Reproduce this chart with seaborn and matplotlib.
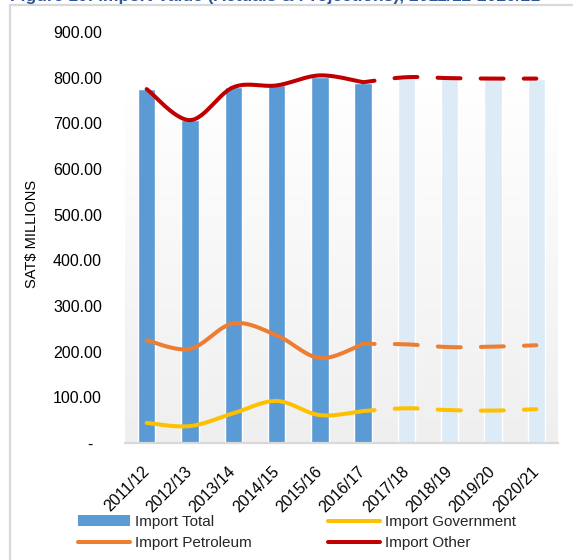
import numpy as np
import pandas as pd
import matplotlib
matplotlib.use("Agg")
import matplotlib.pyplot as plt
from matplotlib.lines import Line2D
from matplotlib.patches import Patch
import seaborn as sns

# ---- data (SAT$ millions) ----
years = ["2011/12", "2012/13", "2013/14", "2014/15", "2015/16",
         "2016/17", "2017/18", "2018/19", "2019/20", "2020/21"]
n_actual = 6  # first six years are actuals, the rest projections
import_total = [775, 707, 779, 783, 801, 788, 799, 799, 797, 797]
import_government = [44, 37, 65, 92, 61, 70, 76, 72, 71, 74]
import_petroleum = [225, 206, 262, 236, 186, 217, 216, 210, 211, 214]
import_other = [775, 707, 779, 783, 805, 790, 801, 799, 798, 798]
y_ticks = [0, 100, 200, 300, 400, 500, 600, 700, 800, 900]
y_tick_labels = ["-  ", "100.00", "200.00", "300.00", "400.00", "500.00",
                 "600.00", "700.00", "800.00", "900.00"]

C_TOTAL = "#5B9BD5"
C_TOTAL_PROJ = "#DDEBF7"
C_GOV = "#FFC000"
C_PET = "#ED7D31"
C_OTHER = "#C00000"

sns.set_theme(style="white")
FONT = ["Liberation Sans", "DejaVu Sans"]
plt.rcParams["font.family"] = FONT

W, H = 581, 560
fig = plt.figure(figsize=(W / 100, H / 100), dpi=100)
ax = fig.add_axes([125 / W, 1 - 443 / H, (558 - 125) / W, (443 - 32) / H])


def smooth(xs, ys, steps=30):
    """Excel-style smoothed line (cubic Bezier, Catmull-Rom tangents)."""
    P = np.column_stack([xs, ys]).astype(float)
    n = len(P)
    out = [P[0]]
    t = np.linspace(0, 1, steps)[1:, None]
    for i in range(n - 1):
        p_prev = P[max(i - 1, 0)]
        p_next2 = P[min(i + 2, n - 1)]
        b0, b3 = P[i], P[i + 1]
        b1 = b0 + (b3 - p_prev) / 6
        b2 = b3 - (p_next2 - b0) / 6
        seg = ((1 - t) ** 3) * b0 + 3 * ((1 - t) ** 2) * t * b1 \
            + 3 * (1 - t) * t ** 2 * b2 + t ** 3 * b3
        out.extend(seg)
    out = np.array(out)
    return out[:, 0], out[:, 1]


# plot-area gradient fill
grad = np.linspace(0, 1, 256)[:, None]
cmap = matplotlib.colors.LinearSegmentedColormap.from_list(
    "pa", ["#FFFFFF", "#EFEFEF"])
ax.imshow(grad, extent=[-0.5, 9.5, 0, 784], aspect="auto", cmap=cmap,
          origin="upper", zorder=0)

df = pd.DataFrame({"year": years, "total": import_total})
palette = {y: (C_TOTAL if i < n_actual else C_TOTAL_PROJ)
           for i, y in enumerate(years)}
sns.barplot(data=df, x="year", y="total", hue="year", palette=palette,
            legend=False, width=0.4, saturation=1, ax=ax, zorder=2)

xpos = np.arange(len(years))
LW = 2.9
for vals, col in [(import_government, C_GOV), (import_petroleum, C_PET),
                  (import_other, C_OTHER)]:
    xs, ys = smooth(xpos[:n_actual], vals[:n_actual])
    ax.plot(xs, ys, color=col, lw=LW, solid_capstyle="round", zorder=4)
    xs, ys = smooth(xpos[n_actual - 1:], vals[n_actual - 1:])
    ax.plot(xs, ys, color=col, lw=LW, dash_capstyle="round",
            linestyle=(2.85, (5.7, 5.0)), zorder=4)

ax.set_xlim(-0.5, 9.5)
ax.set_ylim(0, 900)
ax.set_yticks(y_ticks)
ax.set_yticklabels(y_tick_labels, fontsize=11.5, color="#000000")
ax.tick_params(axis="y", length=0, pad=16.5)
ax.set_xticks(xpos)
ax.set_xticklabels(years, rotation=45, ha="right", va="center",
                   rotation_mode="anchor", fontsize=11.5, color="#000000")
ax.tick_params(axis="x", length=0, pad=19)
ax.set_xlabel("")
ax.set_ylabel("")
for side in ["left", "right", "top"]:
    ax.spines[side].set_visible(False)
ax.spines["bottom"].set_color("#D9D9D9")
ax.spines["bottom"].set_linewidth(1.6)
ax.spines["bottom"].set_zorder(5)
ax.set_facecolor("none")

fig.text(32 / W, 1 - 234 / H, "SAT$ MILLIONS", rotation=90, ha="center",
         va="center", fontsize=10.5, color="#000000")

# outer chart border (top and left edges)
fig.add_artist(Line2D([10 / W, 572 / W], [1 - 5 / H, 1 - 5 / H],
                      color="#D9D9D9", lw=1.6, transform=fig.transFigure))
fig.add_artist(Line2D([10 / W, 10 / W], [1 - 5 / H, 0],
                      color="#D9D9D9", lw=1.6, transform=fig.transFigure))

# figure caption, sitting above the chart frame
fig.text(10 / W, 1 - 1 / H,
         "Figure 10: Import Value (Actuals & Projections), 2011/12-2020/21",
         ha="left", va="baseline", fontsize=12.5, fontweight="bold",
         color="#2E5597")

handles = [
    Patch(facecolor=C_TOTAL, edgecolor="none"),
    Line2D([], [], color=C_PET, lw=LW, solid_capstyle="round"),
    Line2D([], [], color=C_GOV, lw=LW, solid_capstyle="round"),
    Line2D([], [], color=C_OTHER, lw=LW, solid_capstyle="round"),
]
labels = ["Import Total", "Import Petroleum", "Import Government",
          "Import Other"]
fig.legend(handles, labels, ncol=2, loc="upper left",
           bbox_to_anchor=(78 / W, 1 - 515 / H), frameon=False,
           fontsize=11, handlelength=3.4, handleheight=0.7,
           handletextpad=0.33, columnspacing=5.0, labelspacing=0.45,
           borderpad=0, borderaxespad=0)

fig.savefig("out.png", dpi=100)
